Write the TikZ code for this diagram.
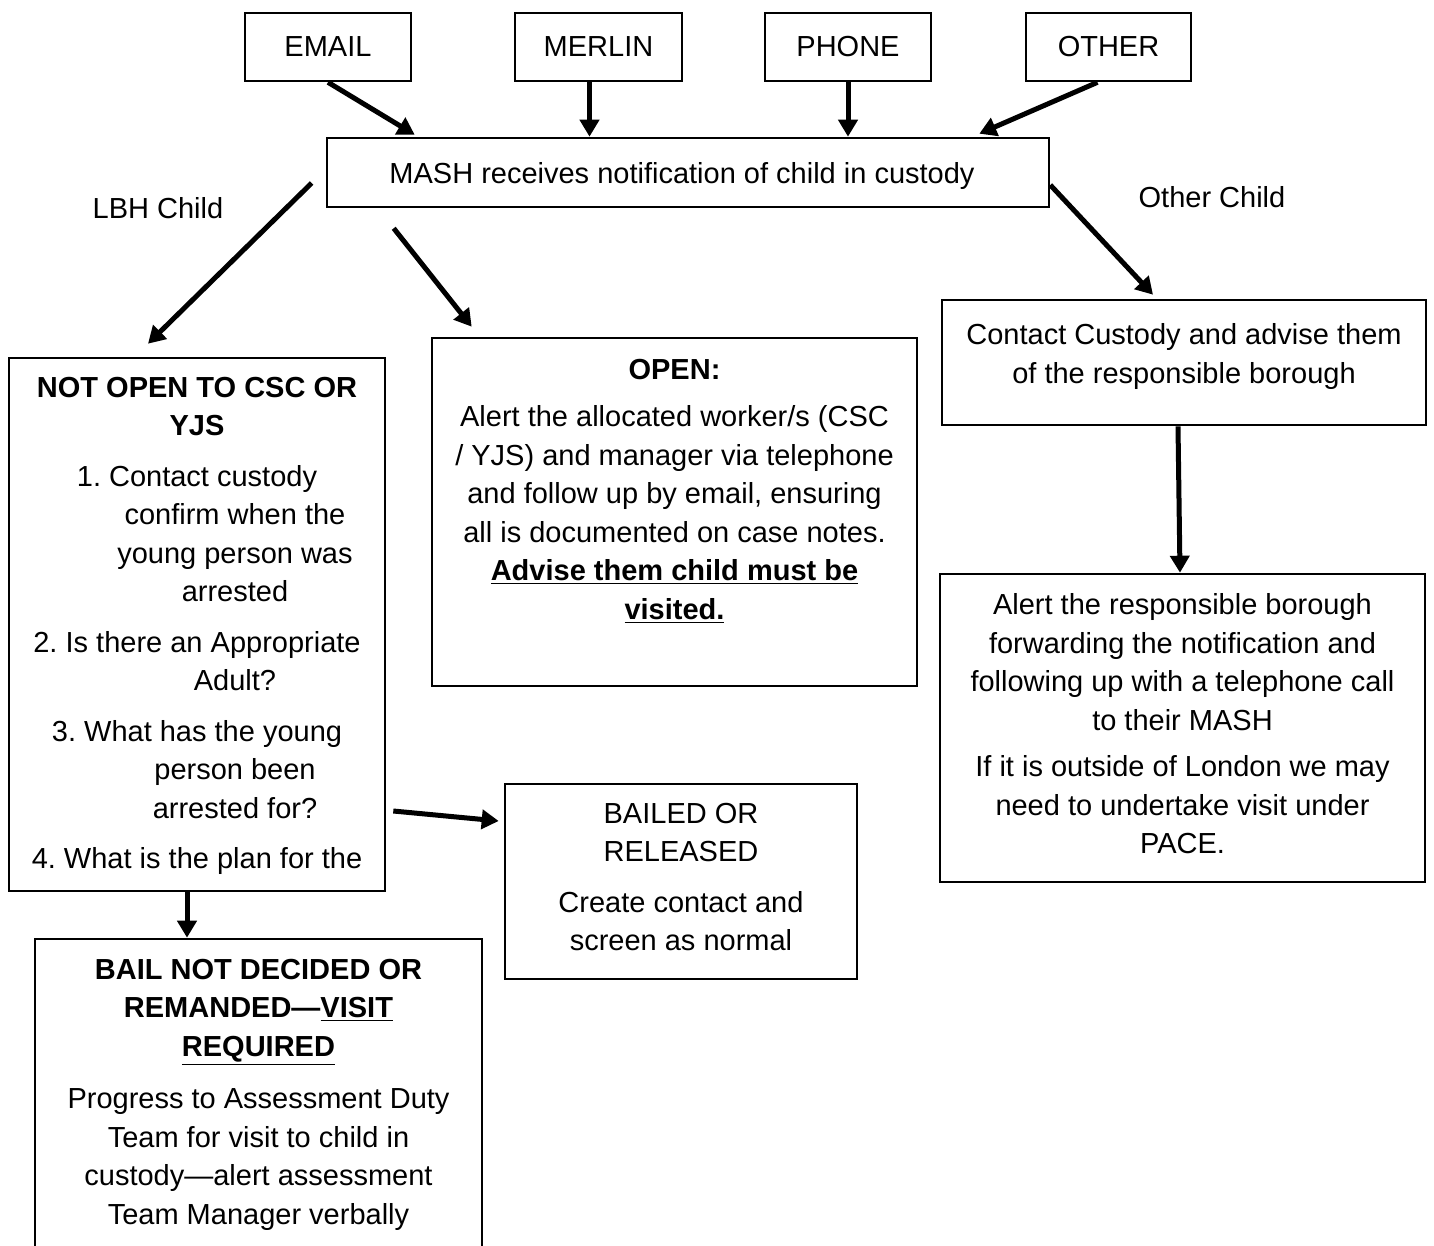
\documentclass[tikz,border=0pt]{standalone}
\usepackage{fontspec}
\setmainfont{Liberation Sans}
\usetikzlibrary{arrows.meta,calc,fit}

\newcommand\diagfont{\fontsize{14.5pt}{19.25pt}\selectfont\frenchspacing}

\begin{document}
\begin{tikzpicture}[x=0.5pt,y=-0.5pt,
  box/.style={draw,line width=1.3pt,inner sep=0pt},
  txt/.style={align=center,inner sep=0pt,anchor=north,font=\diagfont},
  lbl/.style={inner sep=0pt,font=\diagfont},
  flow/.style={line width=2.5pt,-{Triangle[length=8.5pt,width=9.5pt]}},
  ]
% canvas
\fill[white] (0,0) rectangle (1434,1246);
\useasboundingbox (0,0) rectangle (1434,1246);
\clip (0,0) rectangle (1434,1246);

% notification sources
\node[box,fit={(245,13) (411,81)}] (email) {};
\node[box,fit={(515,13) (682,81)}] (merlin) {};
\node[box,fit={(765,13) (931,81)}] (phone) {};
\node[box,fit={(1026,13) (1191,81)}] (other) {};
\node[lbl] (email-t) at (email.center) {EMAIL};
\node[lbl] (merlin-t) at (merlin.center) {MERLIN};
\node[lbl] (phone-t) at (phone.center) {PHONE};
\node[lbl] (other-t) at (other.center) {OTHER};

% central MASH box
\node[box,fit={(327,138) (1049,207)}] (mash) {};
\node[lbl,anchor=base] (mash-t) at ($(mash.center)+(-6,11)$) {MASH receives notification of child in custody};

% branch labels
\node[lbl] (lbh) at (158,208) {LBH Child};
\node[lbl] (oth) at (1212,197) {Other Child};

% outcome boxes
\node[box,fit={(9,358) (385,891)}] (notopen) {};
\node[box,fit={(432,338) (917,686)}] (open) {};
\node[box,fit={(942,300) (1426,425)}] (contact) {};
\node[box,fit={(940,574) (1425,882)}] (alert) {};
\node[box,fit={(505,784) (857,979)}] (bailed) {};
\node[box,fit={(35,939) (482,1270)}] (bail) {};

% box texts
\node[txt] (notopen-t) at (197,376.5) {%
  \textbf{NOT OPEN TO CSC OR}\\
  \textbf{YJS}\\[6pt]
  1. Contact custody\\
  \hspace*{38pt}confirm when the\\
  \hspace*{38pt}young person was\\
  \hspace*{38pt}arrested\\[6pt]
  2. Is there an Appropriate\\
  \hspace*{38pt}Adult?\\[6pt]
  3. What has the young\\
  \hspace*{38pt}person been\\
  \hspace*{38pt}arrested for?\\[6pt]
  4. What is the plan for the};

\node[txt] (open-t) at (674.5,358.5) {%
  \textbf{OPEN:}\\[4.5pt]
  Alert the allocated worker/s (CSC\\
  / YJS) and manager via telephone\\
  and follow up by email, ensuring\\
  all is documented on case notes.\\
  \underline{\textbf{Advise them child must be}}\\
  \underline{\textbf{visited.}}};

\node[txt] (contact-t) at (1184,323.5) {%
  Contact Custody and advise them\\
  of the responsible borough};

\node[txt] (alert-t) at (1182.5,593.5) {%
  Alert the responsible borough\\
  forwarding the notification and\\
  following up with a telephone call\\
  to their MASH\\[4pt]
  If it is outside of London we may\\
  need to undertake visit under\\
  PACE.};

\node[txt] (bailed-t) at (681,802.5) {%
  BAILED OR\\
  RELEASED\\[6pt]
  Create contact and\\
  screen as normal};

\node[txt] (bail-t) at (258.5,958.5) {%
  \textbf{BAIL NOT DECIDED OR}\\
  \textbf{REMANDED—\underline{VISIT}}\\
  \textbf{\underline{REQUIRED}}\\[7pt]
  Progress to Assessment Duty\\
  Team for visit to child in\\
  custody—alert assessment\\
  Team Manager verbally};

% connectors: sources into MASH
\coordinate (m1) at ($(merlin.south)+(-9,0)$);
\coordinate (o1) at ($(other.south)+(-11,0)$);
\draw[flow] (email.south) -- ($(mash.north west)+(89,-2)$);
\draw[flow] (m1) -- (m1 |- mash.north);
\draw[flow] (phone.south) -- (phone.south |- mash.north);
\draw[flow] (o1) -- ($(mash.north east)+(-71,-3)$);

% connectors: MASH to outcomes
\draw[flow] ($(mash.west)+(-14,10.5)$) -- ($(notopen.north)+(-49,-13)$);
\draw[flow] ($(mash.south west)+(68,20)$) -- ($(open.north west)+(41,-10)$);
\draw[flow] ($(mash.east)+(0,12.5)$) -- ($(contact.north)+(-31,-4)$);
\draw[flow] ($(contact.south)+(-6,0)$) -- ($(alert.north)+(-2.5,0)$);

% connectors: from the not-open checklist
\coordinate (n1) at ($(notopen.south)+(-10,0)$);
\draw[flow] ($(notopen.east)+(7,186.5)$) -- ($(bailed.west)+(-5,-60.5)$);
\draw[flow] (n1) -- (n1 |- bail.north);
\end{tikzpicture}
\end{document}
